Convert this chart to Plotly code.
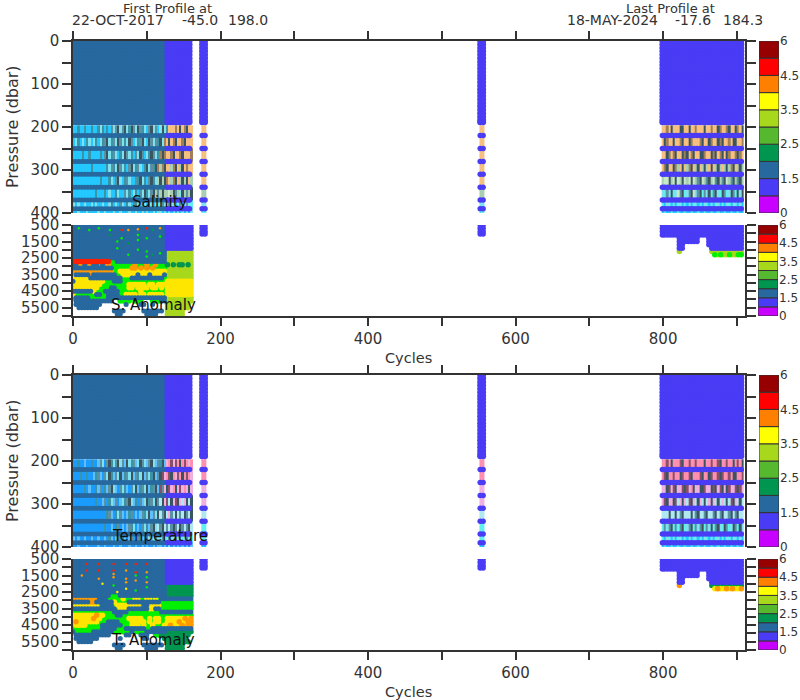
import plotly.graph_objects as go

# ---------- data ----------
CYCLE_DARK = [0,4,8,12,16,20,24,28,32,36,40,44,48,52,56,60,64,68,72,76,80,84,88,92,96,100,104,108,112,116,120,124,128]
CYCLE_PURPLE = [128,132,136,140,144,148,152,156,158]
CYCLE_COL_A = [175,179]
CYCLE_COL_B = [552,556]
CYCLE_RIGHT = [799,802,806,810,814,818,822,826,830,834,838,842,846,850,854,858,862,866,870,874,878,882,886,890,894,898,902,906]
GRID_LEFT = [0,4,8,12,16,20,24,28,32,36,40,44,48,52,56,60,64,68,72,76,80,84,88,92,96,100,104,108,112,116,120,124,128,132,136,140,144,148,152,156,160]
PRESS_SHALLOW = [0,8,16,24,32,40,48,56,64,72,80,88,96,104,112,120,128,136,144,152,160,168,176,184,189]
PRESS_STRIPES = [220,250,280,310,340,370,390]
BAND_EDGES = [196,220,250,280,310,340,370,390,400]
BAND_X_LEFT = [0,3,6,9,12,15,18,21,24,27,30,33,36,39,42,45,48,51,54,57,60,63,66,69,72,75,78,81,84,87,90,93,96,99,102,105,108,111,114,117,120,123,126,129,132,135,138,141,144,147,150,153,156,159,162]
BAND_X_RIGHT = [798,801,804,807,810,813,816,819,822,825,828,831,834,837,840,843,846,849,852,855,858,861,864,867,870,873,876,879,882,885,888,891,894,897,900,903,906,909]
BAND_X_COL_A = [174,181]
BAND_X_COL_B = [551,558]
PRESS_DEEP = [500,700,900,1100,1300,1500,1700,1900,2100,2300,2500,2700,2900,3100,3300,3500,3700,3900,4100,4300,4500,4700,4900,5100,5300,5500,5700,5900]

SAL_LEFT = [
 "CCTCCTCCTC CTMTCTCHMH KMHKMTKHMK HTMCHKMHCM KMTAAABAKA BKAA",
 "CMTCMCTMCM TCMTHKMTHM KHMTMKHCMT HKMCKHMHTK MBAKABKAAB KAAA",
 "CCCCTCCTCC CCTCHKMTHM CTMKHMTCHM KHCMTKHMTB KBAABKAABK AAAB",
 "CCCCCCCCTC CCCCCTMHTM KHMTCHKMTH MCTKMHTKBE BKAAEBKAEK ABAA",
 "CCCCCCCCCC CCTCCCTMCH KMCTHMCCHT KMTCHKTMEK EKBAEBKAEK EKAE",
 "CCCCCCCCCC TCCCTCMCCT MCCHMTCMTC HMKTMHKEHE KEEFEKHEMK EHEK",
 "MCMCCMCCMC MCCMCCMTCM CHMCTMCHTM CHMCHMCMWM HMWHMWCMHW MHMW",
 "CCMCCCMCCC CMCCMCCCMC CMCCCMCCMC CMCMCCMCMM CMCWCMCMCM CMCM"]
SAL_RIGHT = [
 "AABAK AAAKK AAKAA BAAAK AABAA KBAAB KAAKB AK",
 "AKBAA KAABK AAKBA AABKA AKBAA KBKAA BAKKA AB",
 "AAKBA BKAAK BKABK AAKKB AAKBK ABKAK BAABK BA",
 "ABKAA KBEAK AEBKA EKAEK EAKAE KEAEK EBKAE KE",
 "EFFKE FKFEK FEFKF EHKFE HKEFH KEHKF EHKEH KE",
 "MWHMK WMFHK WMHKF MHKWH MKWHK MWKHW MKHWK MK",
 "WCMWC MCWMC WCMCW MCWCM WCMCW MCWCM WCMWC MC",
 "CWCCW CCWCC WCCWC CWCCW CCWCC WCCWC CWCCW CC"]
SAL_COL = "AAAAAEMW"
TEMP_LEFT = [
 "SSTSSUSSTS SUHMSHKTMH KMHUKMTHUM KHMUHKMUHT KUQPDQDPKP DPQP",
 "SSSTSSTSSU THUSHMKTUH MKUTHMKUHT MKUHMTKUHK DQPDKPQDPK PDPQ",
 "SSSSSTSUSS TUHSTUHKMU SHMTUSHMKU THMKUTHKUD HQKDQPKQDQ PQKQ",
 "SSSSSSSSSS TSSUHSTMUH SUMTHKMUTS HUMKTHMKHV KQDVKQDKQV QKVK",
 "SSSSSSSSSS SSSSSTHUST MHUSUTHSUS UHTMKUHMKV HKVQHVKVHV KHVK",
 "SSSSSSSSSS SSSSTSSUST HSUSUHTMSU SHMTUHKMVH KVHVHKHVKH VHKV",
 "USUSSUSSUS SUSSUSTUSU HSTUSUHSUH TUSHMUWHMW HMWHMWHMHW MHMW",
 "SSUSSSUSSS SUSSUSSSUS SUSSSUSSUS SUSUSSUSUU SUSWSUSUSU SUSU"]
TEMP_RIGHT = [
 "PPDPK PPPDK PPDPP DPPPK PPDPP DKPPD PPKPD PK",
 "PDKPP DPPKD PPDKP PPDKP PKDPP DKDPP DPKKP PD",
 "QQKDQ DKQQD KDQPK QQKKD QQKDK QDKQK DQQDK DQ",
 "QDKQQ KDVQK QVDKQ VKQVK VQKQV KVQVK VDKQV KV",
 "VVVKV VKVHK VVVKV HKVVH KVVHK VHKVV HKVHK VV",
 "WHMHK WHWHK WMHKW HMHKW HMKWH KMWKH WMKHW KM",
 "WCMWC MCWMC WCMCW MCWCM WCMCW MCWCM WCMWC MC",
 "CWCCW CCWCC WCCWC CWCCW CCWCC WCCWC CWCCW CC"]
TEMP_COL = "PPQQVWWC"

_TOP = "DDDDDDDDDD DDDDDDDDDD DDDDDDDDDD DDPPPPPPPP P"
S_ANOM_LEFT = [_TOP]*8 + [
 "DDDDDDDDDD DDDDDDDDDD DDDDDDDDDD DDLLLLLLLL L",
 "DDDDDDDDDD DDDDDDDDDD DDDDDDDDDD DDLLLLLLLL L",
 "DDDDDDDDDD DDDDDDDDDD DDDDDDDDDD DDLLLLLLLL L",
 "DRRRRRRRRR RRRGGDDDDD DDDDDDDDDD DDLLLLLLLL L",
 "DDOODOODDO DOOGGGGGGG GOGGGOGGOG GGNLNLNNLN L",
 "DDDDDDDDDD DDDDGGGGGG OOGOGOGOGG GGLLLLLLLL L",
 "OOOOOOOOOO OOOOGGYYYY YYYYYYYYYY YYLLLLLLLL L",
 "YDDDDDODDD DDDDDGGYYY YYDYYYDYYY YDLLLLLLLL L",
 "YYYYYYDDDD DDDDDDDGGG DDDDDDDDDD DGLLLLLLLL L",
 "DYYYYYYYYY YGGGDDDGGG GGGGGGGGGG GGYYYYYYYY Y",
 "GYYYYYYYYY GGGGGGGGGY YYYYYGYYGY YYYYYYYYYY Y",
 "GYYYYYYYYG GGGDDGGGGY YGYYYYGYYG YGYYYYYYYY Y",
 "DDDDDDDYGG GDDDDDGGGG GGGYGGGGGG GGYYYYYYYY Y",
 "YGGGGGGGDD GGDDDDGGYY YYGYYGYYYY YGYYYYYYYY Y",
 "GDDDDDGGGG GGDDDDDDDD DDDDDDDDDD DDLLLLLLLL L",
 ".DDDDDDDDD DDDD..GGGG .GGG...GGG DDLLLLLLLL L",
 ".DDDDDDDDD ........D. ...DD..D.. ..LLLLLLLL .",
 "..DDDDDDD. .......... .......... ..LLLLLLLL .",
 ".......... ....DDDD.. ....DDDDDD D.LLLLLL.. .",
 ".......... .....DD... .....DDDD. ..LLLLLL.. ."]
T_ANOM_LEFT = [_TOP]*8 + [
 "DDDDDDDDDD DDDDDDDDDD DDDDDDDDDD DDNNNNNNNN N",
 "DDDDDDDDDD DDDDDDDDDD DDDDDDDDDD DDNNNNNNNN N",
 "DDDDDDDDDD DDDDDDDDDD DDDDDDDDDD DDNNNNNNNN N",
 "DDDDDDDDDD DDDGGGDDDD DDDDDDDDDD DDNNNNNNNN N",
 "OOOOOOOOOD DDGGGGGYGG GYYGGYYGYG DDDDDDDDDD D",
 "DDDDDDOODD DDDDYGGGGD DDDDDDDDDD GGGGGGGGGG G",
 "GYYYYYYYYG DDDDGYYYYY YYYYDDYYYY GGGGGGGGGG G",
 "DDDDDDDDDD DDDDDGYYYD DDDDDDYYDD GGGGGGGGGG G",
 "GGGGGGGGGG GGGGDDDDDG GGGGGGGGGG DDDDDDDDDD D",
 "YYYYYYYYOY YGGGGDDGGG GGGGGGGGGG GGGGGGGGGG G",
 "YYYYYYYOYY GGGGGGGGGY YYYYGGYGYY GGYYYYYYOY O",
 "YOYYYYYYYG GGDDDDGGGG YYYYYGYGYY GGYYYYOYYO O",
 "GYYYYGGGGG DDDDDDDGGG YYYGYGGYGG GYYOYYYOYO O",
 "GGGGGGGGGG DDDDDGGGDD DDDDDGGDDD DDDDDDDDDD D",
 "DGGGGGGDDD DDDDGGGGGG DGGGGDDDDD DDNNNNNNNN N",
 ".DDDDDDDDD DDD.....DD ...DDD..GG NNNNNNNNNN .",
 ".DDDDDDDD. ......D... ....DD.... .NNNNNNNN. .",
 "..DDDDD... .......... .......... ..NNNNNNNN .",
 ".......... ....DDDD.. ....DDDDDD D.NNNNNN.. .",
 ".......... .....DD... .....DDDD. ..NNNNNN.. ."]
S_ANOM_RIGHT = ["PPPPPPP PPPPPPP PPPPPPP PPPPPPP"]*4 + [
 "......P PPPPPP. ..PPPPP PPPPPPP",
 "......P PPPPPP. ..PPPPP PPPPPPP",
 "......P P...... ..PPPPP PPPPPPP",
 "......P P...... ...PPPP PPPPPPP",
 "......L ....... ...LLLL LLLLLLL",
 "....... ....... ....GLG LLGLLGG"]
T_ANOM_RIGHT = ["PPPPPPP PPPPPPP PPPPPPP PPPPPPP"]*4 + [
 "......P PPPPPP. ..PPPPP PPPPPPP",
 "......P PPPPPP. ..PPPPP PPPPPPP",
 "......P P...... ..PPPPP PPPPPPP",
 "......P P...... ...PPPP PPPPPPP",
 "......O ....... ...NGNG NGNGNGN",
 "....... ....... ....YOY YOYOYYO"]
DEEP_COL_PRESS = [500,700,900,1050]

SPECK_S_CYCLE = [8,22,35,50,50,66,66,75,88,88,100,100,108,118,118,60,75,88,100,100,108,118,60,75,88]
SPECK_S_PRESS = [700,800,700,800,1100,800,1300,800,750,1100,700,1300,800,700,1200,1900,2300,2000,2100,2400,2300,2200,1500,1600,1400]
SPECK_S_CODE = list("GGGGNRGOOGRGNOGGGGGGNGGNG")
SPECK_T_CYCLE = [18,35,35,55,55,55,72,72,72,85,85,85,100,100,100,18,35,55,55,72,85,100,60,72,85,40,100,12]
SPECK_T_PRESS = [800,800,1200,800,1200,1600,800,1200,1700,800,1300,1800,800,1300,1900,1200,1700,2100,1400,2300,2400,2200,2500,1900,1500,2000,1600,1500]
SPECK_T_CODE = list("RRRRROROORROROOROGOYGGYOGYGO")

BAR_LEVELS = [0,1,2,3,4,5,6,7,8,9]
BAR_TICK_POS = [0,2,4,6,8,10]
BAR_TICK_TEXT = ["0","1.5","2.5","3.5","4.5","6"]
Y_TICKS_TOP = [0,50,100,150,200,250,300,350,400]
Y_TEXT_TOP = ["0","","100","","200","","300","","400"]
Y_TICKS_DEEP = [500,1000,1500,2000,2500,3000,3500,4000,4500,5000,5500,6000]
Y_TEXT_DEEP = ["500","","1500","","2500","","3500","","4500","","5500",""]
X_TICKS = [0,100,200,300,400,500,600,700,800,900]
X_TEXT = ["0","","200","","400","","600","","800",""]

# ---------- styles ----------
BAR_COLORS = ["#c800ff","#4a3cf5","#27689f","#009650","#55b82f","#a8d81c","#ffff00","#ff8000","#ff0000","#960000"]
MARK = {"D":"#27689f","P":"#4a3cf5","G":"#00f000","Y":"#ffe600","O":"#ff9900","R":"#ff2000","L":"#a8d81c","N":"#009650"}
BAND = {"A":"#f8c080","B":"#a08058","K":"#3a5560","T":"#3a94a6","C":"#22c8ff","M":"#7fe0ee","E":"#a8d0b0","F":"#c8e8c8",
        "S":"#1a9cff","U":"#60c0ff","P":"#ff8fb0","Q":"#f0b0e0","V":"#b0e8f0","D":"#8a5068","W":"#60f0f0","H":"#5a92a4"}
BKEYS = list(BAND)
n = len(BKEYS)
BSCALE = []
for i, k in enumerate(BKEYS):
    BSCALE += [[i/n, BAND[k]], [(i+1)/n, BAND[k]]]
INK = "#333333"
FONT = "DejaVu Sans"
W, H = 800, 700
X_L, X_R = 73, 745
PANELS = [(41,213),(225,316),(375,547),(559,650)]
XMAX = 911

fig = go.Figure()

def clean(rows):
    return [r.replace(" ","") for r in rows]

def dots(ax, xs, ys, color, size):
    fig.add_trace(go.Scatter(x=xs, y=ys, mode="markers", xaxis=f"x{ax}", yaxis=f"y{ax}",
                             marker=dict(color=color, size=size, line=dict(width=0)),
                             hoverinfo="skip", showlegend=False))

def product(cs, ps):
    return [c for p in ps for c in cs], [p for p in ps for c in cs]

def band_map(ax, xs, rows):
    z = [[BKEYS.index(ch)+0.5 for ch in r] for r in clean(rows)]
    fig.add_trace(go.Heatmap(x=xs, y=BAND_EDGES, z=z, xaxis=f"x{ax}", yaxis=f"y{ax}", colorscale=BSCALE,
                             zmin=0, zmax=n, showscale=False, hoverinfo="skip"))

def top_panel(ax, left, right, col):
    band_map(ax, BAND_X_LEFT, left)
    band_map(ax, BAND_X_RIGHT, right)
    band_map(ax, BAND_X_COL_A, list(col))
    band_map(ax, BAND_X_COL_B, list(col))
    xs, ys = product(CYCLE_DARK, PRESS_SHALLOW)
    dots(ax, xs, ys, MARK["D"], 6)
    for cs in (CYCLE_PURPLE, CYCLE_COL_A, CYCLE_COL_B, CYCLE_RIGHT):
        xs, ys = product(cs, PRESS_SHALLOW)
        dots(ax, xs, ys, MARK["P"], 6)
    xs, ys = product(CYCLE_DARK, PRESS_STRIPES)
    dots(ax, xs, ys, MARK["D"], 5)
    for cs in (CYCLE_PURPLE, CYCLE_COL_A, CYCLE_COL_B, CYCLE_RIGHT):
        xs, ys = product(cs, PRESS_STRIPES)
        dots(ax, xs, ys, MARK["P"], 5.5)

def deep_panel(ax, left, right, sc, sp, sk):
    pts = {k: ([], []) for k in MARK}
    for p, r in zip(PRESS_DEEP, clean(left)):
        for c, ch in zip(GRID_LEFT, r):
            if ch != ".":
                pts[ch][0].append(c); pts[ch][1].append(p)
    for p, r in zip(PRESS_DEEP, clean(right)):
        for c, ch in zip(CYCLE_RIGHT, r):
            if ch != ".":
                pts[ch][0].append(c); pts[ch][1].append(p)
    for k in "LGNYODRP":
        dots(ax, pts[k][0], pts[k][1], MARK[k], 5 if k == "D" else 5.5)
    for cs in (CYCLE_COL_A, CYCLE_COL_B):
        xs, ys = product(cs, DEEP_COL_PRESS)
        dots(ax, xs, ys, MARK["P"], 5.5)
    for k in "GNORY":
        xs = [c for c, q in zip(sc, sk) if q == k]
        ys = [p for p, q in zip(sp, sk) if q == k]
        dots(ax, xs, ys, MARK[k], 2.5)

top_panel(1, SAL_LEFT, SAL_RIGHT, SAL_COL)
deep_panel(2, S_ANOM_LEFT, S_ANOM_RIGHT, SPECK_S_CYCLE, SPECK_S_PRESS, SPECK_S_CODE)
top_panel(3, TEMP_LEFT, TEMP_RIGHT, TEMP_COL)
deep_panel(4, T_ANOM_LEFT, T_ANOM_RIGHT, SPECK_T_CYCLE, SPECK_T_PRESS, SPECK_T_CODE)

layout = {}
def fx(px):
    return px / W
def fy(py):
    return 1 - py / H
def dom(top, bot):
    return [fy(bot), fy(top)]

for i, (top, bot) in enumerate(PANELS, 1):
    deep = i in (2, 4)
    layout[f"xaxis{i}"] = dict(domain=[fx(X_L), fx(X_R)], range=[0, XMAX], anchor=f"y{i}", automargin=False,
        side="bottom" if deep else "top", showline=True, linecolor=INK, linewidth=1.5,
        ticks="outside", ticklen=8, tickwidth=1.5, tickcolor=INK, tickmode="array",
        tickvals=X_TICKS, ticktext=X_TEXT, showticklabels=deep, showgrid=False, zeroline=False,
        tickfont=dict(family=FONT, size=15, color=INK))
    layout[f"yaxis{i}"] = dict(domain=dom(top, bot), anchor=f"x{i}", automargin=False,
        range=[6000, 500] if deep else [400, 0], showline=True, mirror="ticks", linecolor=INK, linewidth=1.5,
        ticks="outside", ticklen=9, tickwidth=1.5, tickcolor=INK, tickmode="array",
        tickvals=Y_TICKS_DEEP if deep else Y_TICKS_TOP, ticktext=Y_TEXT_DEEP if deep else Y_TEXT_TOP,
        showgrid=False, zeroline=False, tickfont=dict(family=FONT, size=15, color=INK))
    k = i + 4
    fig.add_trace(go.Bar(x=[0.5]*len(BAR_LEVELS), y=[1]*len(BAR_LEVELS), base=BAR_LEVELS, width=1,
                         xaxis=f"x{k}", yaxis=f"y{k}", hoverinfo="skip", showlegend=False,
                         marker=dict(color=BAR_COLORS, line=dict(color=INK, width=1))))
    bar_x = [fx(759), fx(779)] if not deep else [fx(758), fx(778)]
    layout[f"xaxis{k}"] = dict(domain=bar_x, range=[0, 1], anchor=f"y{k}", visible=False, automargin=False)
    layout[f"yaxis{k}"] = dict(domain=dom(top, bot), range=[0, 10], anchor=f"x{k}", side="right", showgrid=False,
        zeroline=False, showline=False, ticks="", tickmode="array", tickvals=BAR_TICK_POS, ticktext=BAR_TICK_TEXT,
        automargin=False, tickfont=dict(family=FONT, size=12, color=INK))

def label(px, py, text, size=15, anchor="center", angle=0, color=INK):
    return dict(xref="paper", yref="paper", x=fx(px), y=fy(py), text=text, showarrow=False, xanchor=anchor,
                yanchor="middle", textangle=angle, font=dict(family=FONT, size=size, color=color))

layout["annotations"] = [
    label(167, 8, "First Profile at", 13),
    label(70, 20, "22-OCT-2017", 14, "left"),
    label(180, 20, "-45.0", 14, "left"),
    label(226, 20, "198.0", 14, "left"),
    label(670, 8, "Last Profile at", 13),
    label(565, 20, "18-MAY-2024", 14, "left"),
    label(673, 20, "-17.6", 14, "left"),
    label(721, 20, "184.3", 14, "left"),
    label(12, 127, "Pressure (dbar)", 16, angle=-90),
    label(12, 461, "Pressure (dbar)", 16, angle=-90),
    label(408, 358, "Cycles", 14.5),
    label(408, 692, "Cycles", 14.5),
    label(160, 202, "Salinity", 15, color="#111111"),
    label(153, 305, "S. Anomaly", 15, color="#111111"),
    label(160, 536, "Temperature", 15, color="#111111"),
    label(153, 640, "T. Anomaly", 15, color="#111111"),
]
fig.update_layout(width=W, height=H, autosize=False, margin=dict(l=0, r=0, t=0, b=0), paper_bgcolor="white",
                  plot_bgcolor="white", showlegend=False, barmode="overlay", **layout)
fig.write_html("out.html", config={"displayModeBar": False}, post_script="document.body.style.margin='0';")
